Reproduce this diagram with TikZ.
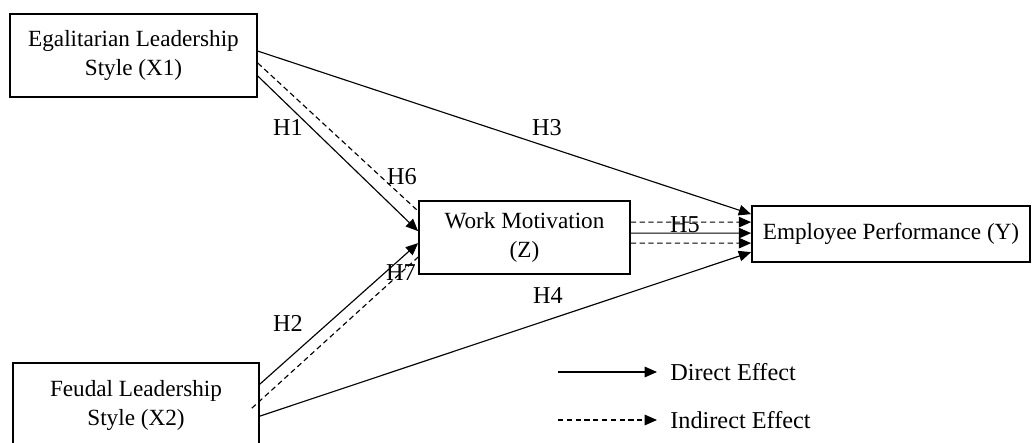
\documentclass[tikz,border=0pt]{standalone}
\usepackage{fontspec}
\setmainfont{Liberation Serif}
\usepackage{tikz}
\usetikzlibrary{positioning, arrows.meta, calc}

\tikzset{
  varbox/.style={draw, line width=1pt, align=center, inner sep=2pt,
    font=\fontsize{13.2}{16.5}\selectfont},
  direct/.style={line width=0.65pt, -{Triangle[length=7pt,width=6pt]}},
  indirect/.style={line width=0.65pt, dashed, dash pattern=on 3pt off 2pt},
  hlabel/.style={font=\fontsize{13.8}{15}\selectfont, inner sep=0pt},
}

\begin{document}
\begin{tikzpicture}
    \useasboundingbox (0,0) rectangle (20.66,8.86);

    % Variable boxes
    \node[varbox, minimum width=4.94cm, minimum height=1.66cm] (x1) at (2.67,7.75)
        {Egalitarian Leadership\\Style (X1)};
    \node[varbox, minimum width=4.92cm, minimum height=1.7cm] (x2) at (2.72,0.75)
        {Feudal Leadership\\Style (X2)};
    \node[varbox, minimum width=4.22cm, minimum height=1.46cm] (z) at (10.49,4.11)
        {Work Motivation\\(Z)};
    \node[varbox, minimum width=5.56cm, minimum height=1.12cm] (y) at (17.82,4.18)
        {Employee Performance (Y)};

    % Direct paths
    \draw[direct] ([yshift=-0.76cm]x1.north east) -- ([yshift=-0.18cm]y.north west);
    \draw[direct] ([yshift=-1.26cm]x1.north east) -- ([yshift=-0.62cm]z.north west);
    \draw[direct] ([yshift=-0.44cm]x2.north east) -- ([yshift=-0.86cm]z.north west);
    \draw[direct] ([yshift=-1.08cm]x2.north east) -- ([yshift=-0.94cm]y.north west);
    \draw[direct] ([yshift=-0.66cm]z.north east) -- ([yshift=-0.56cm]y.north west);

    % Indirect paths (through Z)
    \draw[indirect] ([yshift=-1.0cm]x1.north east) -- ([yshift=-0.22cm]z.north west);
    \draw[indirect] ([xshift=-0.16cm,yshift=-0.92cm]x2.north east) -- ([yshift=-1.14cm]z.north west);
    \draw[indirect, -{Triangle[length=7pt,width=6pt]}] ([yshift=-0.44cm]z.north east) -- ([yshift=-0.34cm]y.north west);
    \draw[indirect, -{Triangle[length=7pt,width=6pt]}] ([yshift=-0.86cm]z.north east) -- ([yshift=-0.76cm]y.north west);

    % Hypothesis labels
    \node[hlabel] (h1) at (5.76,6.32) {H1};
    \node[hlabel] (h2) at (5.76,2.40) {H2};
    \node[hlabel] (h3) at (10.94,6.30) {H3};
    \node[hlabel] (h4) at (10.96,2.94) {H4};
    \node[hlabel] (h5) at (13.70,4.36) {H5};
    \node[hlabel] (h6) at (8.04,5.32) {H6};
    \node[hlabel] (h7) at (8.02,3.40) {H7};

    % Legend
    \coordinate (legdirect) at (11.16,1.42);
    \coordinate (legindirect) at (11.16,0.46);
    \node[hlabel, anchor=west] (ldirect) at (13.40,1.42) {Direct Effect};
    \node[hlabel, anchor=west] (lindirect) at (13.40,0.46) {Indirect Effect};
    \draw[direct] (legdirect) -- ([xshift=-0.26cm]ldirect.west);
    \draw[indirect, -{Triangle[length=7pt,width=6pt]}] (legindirect) -- ([xshift=-0.26cm]lindirect.west);
\end{tikzpicture}
\end{document}
